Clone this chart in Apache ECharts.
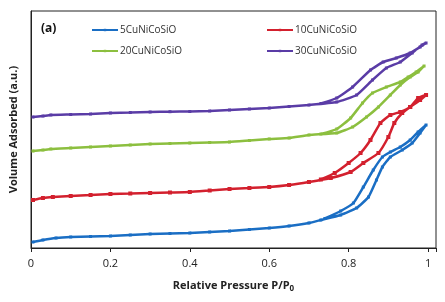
<!DOCTYPE html>
<html><head><meta charset="utf-8">
<script src="https://cdn.jsdelivr.net/npm/echarts@6/dist/echarts.min.js"></script>
<style>html,body{margin:0;padding:0;background:#fff}#c{width:445px;height:302px}</style>
</head><body><div id="c"></div>
<script>
// 5CuNiCoSiO
const p5Ads = [0.005,0.03,0.063,0.1,0.15,0.2,0.25,0.3,0.35,0.4,0.45,0.5,0.55,0.6,0.65,0.7,0.73,0.78,0.82,0.85,0.87,0.885,0.905,0.935,0.96,0.98,0.995];
const v5Ads = [6,8,10,11,11.5,12,13,14,14.5,15,16,17,18.5,20,22,25,28,33,40,51,68,81,91,98,105,115,123];
const p5Des = [0.975,0.955,0.93,0.905,0.885,0.862,0.837,0.812,0.78,0.74];
const v5Des = [116,108,101,96,91,78,61,45,37,29.5];
// 10CuNiCoSiO
const p10Ads = [0.005,0.03,0.055,0.1,0.15,0.2,0.25,0.3,0.35,0.4,0.45,0.5,0.55,0.6,0.65,0.7,0.755,0.805,0.837,0.875,0.9,0.915,0.935,0.955,0.98,0.995];
const v10Ads = [48,50,51,52,53,54,54.5,55,55.5,56,57.5,59,60,61,63,66,70,76,85,95,111,125,135,141,148,153];
const p10Des = [0.975,0.955,0.93,0.905,0.88,0.855,0.83,0.8,0.765,0.73];
const v10Des = [150,141,136,133,125,108,95,85,75,68.5];
// 20CuNiCoSiO
const p20Ads = [0.005,0.03,0.05,0.1,0.15,0.2,0.25,0.3,0.35,0.4,0.45,0.5,0.55,0.6,0.65,0.7,0.77,0.81,0.845,0.875,0.905,0.93,0.955,0.975,0.99];
const v20Ads = [97,98,99,100,101,102,103,104,104.5,105,105.5,106,107.5,109,110,113,115,121,131,141,153,163,171,176,182];
const p20Des = [0.97,0.95,0.93,0.895,0.86,0.835,0.805,0.77,0.73];
const v20Des = [176,171,166,161,155,145,130,119,114];
// 30CuNiCoSiO
const p30Ads = [0.005,0.03,0.05,0.1,0.15,0.2,0.25,0.3,0.35,0.4,0.45,0.5,0.55,0.6,0.65,0.7,0.77,0.82,0.86,0.895,0.93,0.96,0.985,0.995];
const v30Ads = [131,132,133,133.5,134,135,135.5,136,136.3,136.5,137,138,139,140,141.5,143,146,153,168,180,186,195,203,205];
const p30Des = [0.98,0.955,0.92,0.887,0.855,0.81,0.77,0.73];
const v30Des = [201,195,190,186,178,161,150,144.5];

const xTicks = [0,0.2,0.4,0.6,0.8,1];
const names = ['5CuNiCoSiO','10CuNiCoSiO','20CuNiCoSiO','30CuNiCoSiO'];
const colors = ['#1a6ec4','#d3202e','#8cbf3f','#5a3ca6'];
const symSizes = [3,4,3,3];

function loop(pa, va, pd, vd){
  const out = [];
  pa.forEach((p,i)=>out.push([p,va[i]]));
  pd.forEach((p,i)=>out.push([p,vd[i]]));
  return out;
}
const datas = [
  loop(p5Ads,v5Ads,p5Des,v5Des),
  loop(p10Ads,v10Ads,p10Des,v10Des),
  loop(p20Ads,v20Ads,p20Des,v20Des),
  loop(p30Ads,v30Ads,p30Des,v30Des)
];

const chart = echarts.init(document.getElementById('c'));
const legendPos = [[86,20],[261,20],[86,41],[261,41]];
chart.setOption({
  animation:false,
  textStyle:{fontFamily:'Open Sans'},
  grid:{left:30,right:9,top:11,bottom:54,show:true,borderColor:'#222',borderWidth:1,backgroundColor:'transparent'},
  title:{text:'(a)',left:36,top:18,textStyle:{fontSize:12,fontWeight:'bold',color:'#111',fontFamily:'Open Sans'}},
  legend: names.map((n,i)=>({
    data:[n], left:legendPos[i][0], top:legendPos[i][1],
    itemWidth:26, itemHeight:3, itemGap:4,
    textStyle:{fontSize:10,color:'#333',fontFamily:'Open Sans',padding:[0,0,0,-3]}
  })),
  xAxis:{type:'value',min:0,max:1.02,interval:0.2,
    axisLine:{show:true,lineStyle:{color:'#222'}},
    axisTick:{show:true,length:4,lineStyle:{color:'#222'}},
    splitLine:{show:false},
    axisLabel:{color:'#222',fontSize:11,margin:10,
      customValues:xTicks,
      formatter:v=>(Math.abs(v-1)<1e-6?'1':(v===0?'0':String(+v.toFixed(1))))},
    name:'{a|Relative Pressure P/P}{b|0}',nameLocation:'middle',nameGap:31,
    nameTextStyle:{rich:{a:{fontSize:11,fontWeight:'bold',color:'#222',fontFamily:'Open Sans'},b:{fontSize:8,fontWeight:'bold',color:'#222',verticalAlign:'bottom',padding:[6,0,0,0],fontFamily:'Open Sans'}}}
  },
  yAxis:{type:'value',min:0,max:237,
    axisLine:{show:true,lineStyle:{color:'#222'}},
    axisTick:{show:false},axisLabel:{show:false},splitLine:{show:false},
    name:'Volume Adsorbed (a.u.)',nameLocation:'middle',nameGap:12,
    nameTextStyle:{fontSize:11,fontWeight:'bold',color:'#222',fontFamily:'Open Sans'}
  },
  series: names.map((n,i)=>({
    name:n,type:'line',data:datas[i],smooth:0.15,
    symbol:'rect',symbolSize:symSizes[i],showSymbol:true,
    lineStyle:{color:colors[i],width:2.5},
    itemStyle:{color:colors[i]}
  }))
});
</script></body></html>
